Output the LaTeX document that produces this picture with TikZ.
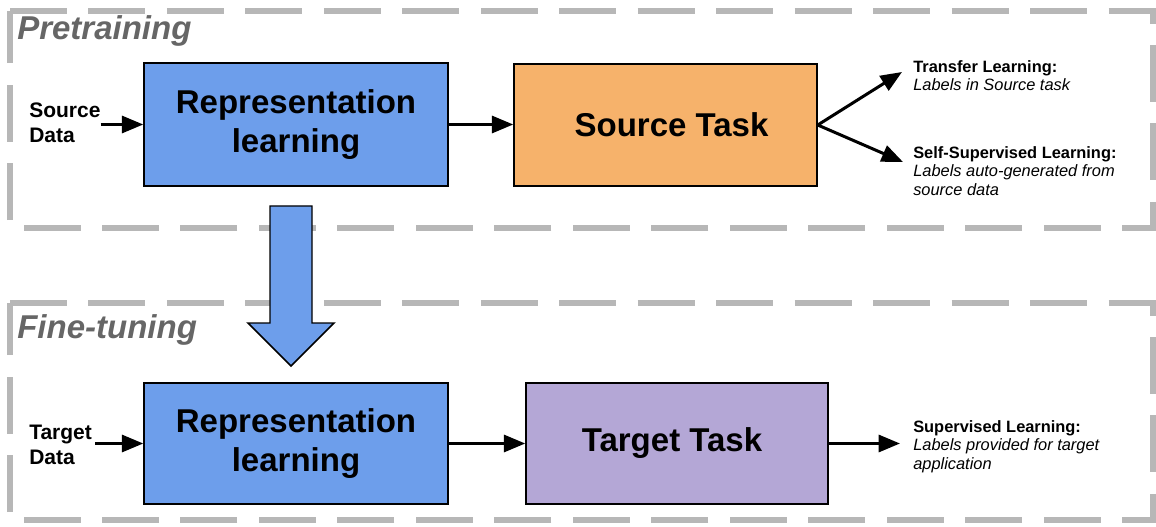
\documentclass[tikz,border=0pt]{standalone}
\usepackage{fontspec}
\setmainfont{Liberation Sans}
\usetikzlibrary{arrows.meta,calc}
\definecolor{repblue}{HTML}{6D9EEB}
\definecolor{srcorange}{HTML}{F6B26B}
\definecolor{tgtpurple}{HTML}{B4A7D6}
\definecolor{framegray}{HTML}{B7B7B7}
\definecolor{titlegray}{HTML}{666666}

\begin{document}
\begin{tikzpicture}[x=0.75pt,y=-0.75pt,
  stagebox/.style={draw=black,line width=1.1pt,inner sep=0pt,
    font=\fontsize{24.75}{29.25}\selectfont\bfseries,align=center},
  frame/.style={draw=framegray,line width=4.5pt,dash pattern=on 42.75pt off 16.1pt},
  title/.style={font=\fontsize{24.75}{29}\selectfont\bfseries\itshape,
    text=titlegray,inner sep=0pt,anchor=base west},
  datalabel/.style={font=\fontsize{15.75}{18.75}\selectfont\bfseries,
    align=left,inner sep=0pt,anchor=west},
  sidelabel/.style={font=\fontsize{12.3}{14}\selectfont,align=left,
    inner sep=0pt,anchor=north west},
  arr/.style={line width=2.25pt,-{Triangle[length=16pt,width=12.75pt]}},
]
\useasboundingbox (0,0) rectangle (1156,527);

% dashed stage frames
\draw[frame] (10,11) -- (1153,11) -- (1153,228) -- (10,228) -- cycle;
\draw[frame] (10,303) -- (1153,303) -- (1153,520) -- (10,520) -- cycle;

% stage titles
\node[title] (pt) at (17,40) {Pretraining};
\node[title] (ft) at (17,338) {Fine-tuning};

% pretraining row
\node[stagebox,fill=repblue,minimum width=228pt,minimum height=92.25pt]
  (rep1) at (296,124.5) {Representation\\learning};
\node[stagebox,fill=srcorange,minimum width=227.25pt,minimum height=91.5pt]
  (stask) at (665.5,125) {\hspace*{9pt}Source Task};
\node[datalabel] (src) at (29,123) {Source\\Data};
\node[sidelabel] (tl) at (913,60)
  {\textbf{Transfer Learning:}\\\textit{Labels in Source task}};
\node[sidelabel] (ssl) at (913,146)
  {\textbf{Self-Supervised Learning:}\\\textit{Labels auto-generated from}\\\textit{source data}};
\coordinate (tltip) at (902,72);
\coordinate (ssltip) at (903,162);

\draw[arr] (src.east |- rep1.west) -- (rep1.west);
\draw[arr] (rep1.east) -- (rep1.east -| stask.west);
\draw[arr] (stask.east) -- (tltip);
\draw[arr] (stask.east) -- (ssltip);

% fine-tuning row
\node[stagebox,fill=repblue,minimum width=228pt,minimum height=90.75pt]
  (rep2) at (296,443.5) {Representation\\learning};
\node[stagebox,fill=tgtpurple,minimum width=226.5pt,minimum height=90.75pt]
  (ttask) at (677,443.5) {Target Task\hspace*{7.5pt}};
\node[datalabel] (tgt) at (29,445) {Target\\Data};
\node[sidelabel] (sl) at (913,420)
  {\textbf{Supervised Learning:}\\\textit{Labels provided for target}\\\textit{application}};
\coordinate (sltip) at (900,443.5);

\draw[arr,shorten <=2.25pt] (tgt.east |- rep2.west) -- (rep2.west);
\draw[arr] (rep2.east) -- (rep2.east -| ttask.west);
\draw[arr] (ttask.east) -- (sltip);

% block arrow carrying the learned representation down
\draw[draw=black,line width=1.1pt,fill=repblue,line join=miter]
  (270,206) -- (312,206) -- (312,323) -- (334,323) -- (291,366)
  -- (248,323) -- (270,323) -- cycle;
\end{tikzpicture}
\end{document}
